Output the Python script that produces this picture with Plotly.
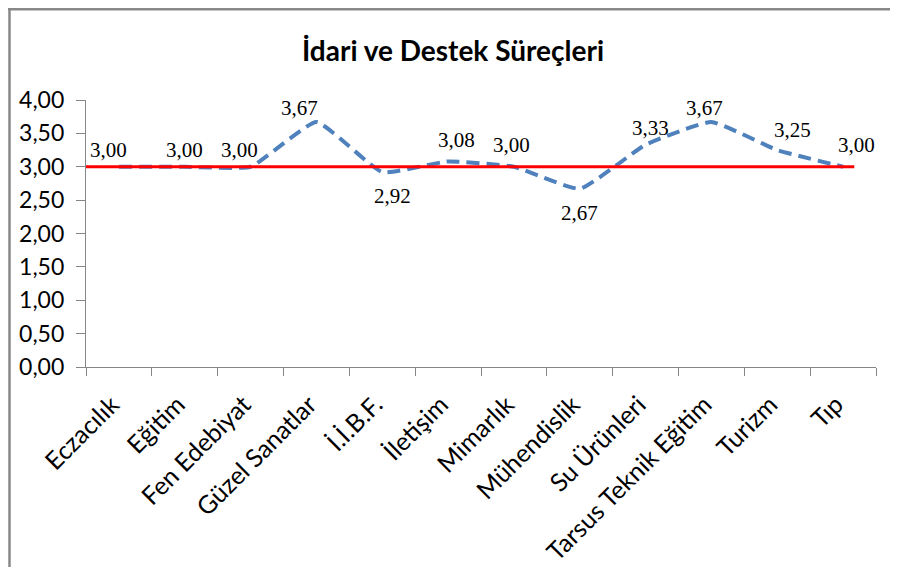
import plotly.graph_objects as go

categories = ["Eczacılık", "Eğitim", "Fen Edebiyat", "Güzel Sanatlar", "İ.İ.B.F.",
              "İletişim", "Mimarlık", "Mühendislik", "Su Ürünleri",
              "Tarsus Teknik Eğitim", "Turizm", "Tıp"]
values = [3.00, 3.00, 3.00, 3.67, 2.92, 3.08, 3.00, 2.67, 3.33, 3.67, 3.25, 3.00]
reference_value = 3.00
title_text = "İdari ve Destek Süreçleri"

# label placement offsets (pixels) relative to each point
label_dx = [-10, 0, -11, -17, 10, 8, -2, 0, 5, -7, 15, 13]
label_dy = [17, 17, 17, 14, -24, 21, 22, -24, 17, 14, 20, 22]

# page body has an 8px margin; figure sized to fit the window
OFF = 8
W, H = 898 - 2 * OFF, 581 - 2 * OFF - 6
L, R, T, B = 86 - OFF, 876 - OFF, 100 - OFF, 367 - OFF

fig = go.Figure()
fig.add_trace(go.Scatter(
    x=categories, y=values, mode="lines",
    line=dict(color="#4F81BD", width=4, dash="13px,7px", shape="spline", smoothing=0.4),
    hoverinfo="skip", showlegend=False,
))

for c, v, dx, dy in zip(categories, values, label_dx, label_dy):
    fig.add_annotation(x=c, y=v, xref="x", yref="y", text=f"{v:.2f}".replace(".", ","),
                       showarrow=False, xshift=dx, yshift=dy, xanchor="center", yanchor="middle",
                       font=dict(family="Liberation Serif", size=21, color="#000000"))

# red reference line
fig.add_shape(type="line", xref="x", yref="y", x0=-0.5, x1=len(categories) - 0.83,
              y0=reference_value, y1=reference_value,
              line=dict(color="#FF0000", width=3), layer="above")

# outer chart border
px = lambda v: (v - L) / (R - L)
py = lambda v: (B - v) / (B - T)
fig.add_shape(type="line", xref="paper", yref="paper", x0=px(1.5), x1=px(1.5), y0=py(0), y1=py(H + 20),
              line=dict(color="#888888", width=2.5))
fig.add_shape(type="line", xref="paper", yref="paper", x0=px(0), x1=px(W + 20), y0=py(1.2), y1=py(1.2),
              line=dict(color="#888888", width=2.5))

fig.update_layout(
    width=W, height=H,
    margin=dict(l=L, r=W - R, t=T, b=H - B, autoexpand=False),
    paper_bgcolor="white", plot_bgcolor="white",
    separators=",.",
    title=dict(text=title_text, x=px(445), xref="paper", xanchor="center",
               y=1 - 43 / H, yanchor="middle",
               font=dict(family="Lato", size=28, color="#000000", weight="bold")),
    xaxis=dict(type="category", tickangle=-45, tickson="boundaries", ticks="outside",
               ticklen=8, tickcolor="#868686", showline=True, linecolor="#868686", linewidth=1.2,
               showgrid=False, tickfont=dict(family="Lato", size=25, color="#000000"),
               ticklabelstandoff=12, ticklabelshift=-7,
               range=[-0.5, len(categories) - 0.5], automargin=False),
    yaxis=dict(range=[0, 4], dtick=0.5, tickformat=".2f", ticks="outside", ticklen=9,
               tickcolor="#868686", showline=True, linecolor="#868686", linewidth=1.2,
               showgrid=False, zeroline=False, automargin=False, ticklabelstandoff=7,
               tickfont=dict(family="Lato", size=23, color="#000000")),
)

fig.write_html("out.html")
